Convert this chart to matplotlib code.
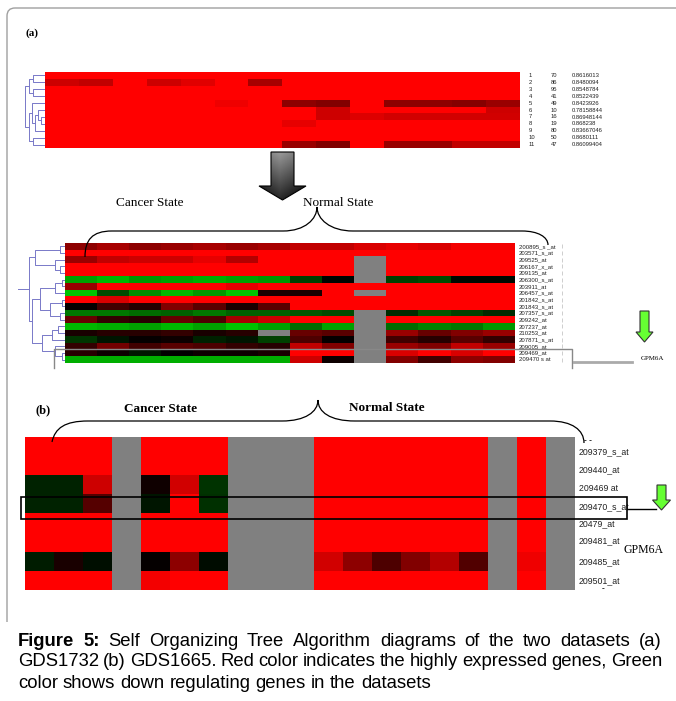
import numpy as np
import matplotlib
matplotlib.use('Agg')
import matplotlib.pyplot as plt
from matplotlib.colors import LinearSegmentedColormap
from matplotlib.path import Path
from matplotlib.patches import PathPatch, Polygon, Rectangle

nan = np.nan

# ---- (a) top: SOTA cluster profiles (11 clusters x 14 samples)
clus_id = [str(i) for i in range(1, 12)]
clus_size = ['70', '86', '95', '41', '49', '10', '16', '19', '80', '50', '47']
clus_corr = ['0.8616013', '0.8480094', '0.8548784', '0.8522439', '0.8423926',
             '0.78158844', '0.86948144', '0.868238', '0.83667046', '0.8680111',
             '0.86099404']
sota_vals = np.array([
    [1, 1, 1, 1, 1, 1, 1, 1, 1, 1, 1, 1, 1, 1],
    [0.8, 0.75, 1, 0.8, 0.88, 1, 0.65, 1, 1, 1, 1, 1, 1, 1],
    [1, 1, 1, 1, 1, 1, 1, 1, 1, 1, 1, 1, 1, 1],
    [1, 1, 1, 1, 1, 1, 1, 1, 1, 1, 1, 1, 1, 1],
    [1, 1, 1, 1, 1, 0.93, 1, 0.55, 0.5, 1, 0.55, 0.55, 0.52, 0.6],
    [1, 1, 1, 1, 1, 1, 1, 1, 0.8, 1, 1, 1, 1, 0.8],
    [1, 1, 1, 1, 1, 1, 1, 1, 0.8, 0.86, 0.82, 0.82, 0.82, 0.82],
    [1, 1, 1, 1, 1, 1, 1, 0.9, 1, 1, 1, 1, 1, 1],
    [1, 1, 1, 1, 1, 1, 1, 1, 1, 1, 1, 1, 1, 1],
    [1, 1, 1, 1, 1, 1, 1, 1, 1, 1, 1, 1, 1, 1],
    [1, 1, 1, 1, 1, 1, 1, 0.6, 0.5, 1, 0.6, 0.6, 0.75, 0.75],
])
# merges: (child a, child b, x of join)
sota_tree = [(0, 1, 33), (2, 3, 33), (11, 12, 29), (6, 7, 41), (5, 14, 38),
             (15, 8, 35), (4, 16, 32), (9, 10, 33), (17, 18, 29), (13, 19, 25)]

# ---- (a) middle: GDS1732 probes (18 probes x 14 samples)
probes_a = ['200895_s _at', '203571_s_at', '209525_at', '206167_x_at', '209135_at',
            '206300_s_at', '203911_at', '206457_s_at', '201842_s_at', '201843_s_at',
            '207357_s_at', '209242_at', '207237_at', '210253_at', '207871_s_at',
            '209005_at', '209469_at', '209470 s at']
expr_a = np.array([
    [0.55, 0.65, 0.55, 0.6, 0.65, 0.6, 0.65, 0.75, 0.75, 0.85, 0.9, 0.85, 0.95, 0.95],
    [1, 1, 1, 1, 1, 1, 1, 1, 1, 1, 1, 1, 1, 1],
    [0.6, 0.75, 0.8, 0.8, 0.9, 0.7, 1, 1, 1, nan, 1, 1, 1, 1],
    [1, 1, 1, 1, 1, 1, 1, 1, 1, nan, 1, 1, 1, 1],
    [1, 1, 1, 1, 1, 1, 1, 1, 1, nan, 1, 1, 1, 1],
    [-0.75, -0.85, -0.7, -0.75, -0.8, -0.75, -0.7, -0.3, -0.03, nan, -0.3, -0.35, -0.04, -0.04],
    [0.6, 1, 1, 1, 1, 0.9, 1, 1, 1, 1, 1, 1, 1, 1],
    [-0.9, -0.35, -0.65, -0.85, -0.7, -0.9, 0.1, 0.1, 1, nan, 1, 1, 1, 1],
    [1, 0.85, 1, 1, 1, 1, 1, 1, 1, 1, 1, 1, 1, 1],
    [0.02, 0.25, 0.15, 0.5, 0.35, 0.1, 0.35, 1, 1, 1, 1, 1, 1, 1],
    [-0.55, -0.55, -0.5, -0.45, -0.55, -0.45, -0.45, -0.4, -0.35, nan, -0.2, -0.4, -0.3, -0.2],
    [0.4, 0.2, 0.15, 0.4, 0.3, 0.65, 0.8, 1, 1, nan, 1, 1, 1, 1],
    [-0.85, -0.8, -0.75, -0.85, -0.75, -0.9, -0.75, -0.5, -0.75, nan, -0.5, -0.6, -0.55, -0.7],
    [0.1, 0.15, 0.15, 0.2, 0.1, 0.15, nan, 0.4, 0.35, nan, 0.6, 0.4, 0.5, 0.6],
    [-0.25, -0.1, 0.02, 0.05, -0.15, -0.1, -0.3, 0.3, 0.02, nan, 0.25, 0.15, 0.35, 0.2],
    [0.2, 0.45, 0.25, 0.35, 0.3, 0.2, 0.15, 0.75, 0.5, nan, 0.6, 0.5, 0.75, 0.6],
    [0.15, 0.05, -0.1, 0.0, 0.05, 0.05, 0.1, 1, 1, nan, 0.85, 1, 0.85, 1],
    [-0.8, -0.8, -0.8, -0.8, -0.8, -0.8, -0.8, 0.8, 0.05, nan, 0.5, 0.25, 0.55, 0.5],
])
tree_a = [(0, 1, 60), (3, 4, 60), (2, 19, 55), (18, 20, 35),
          (5, 6, 62), (22, 7, 55), (8, 9, 62), (10, 11, 60), (24, 25, 50), (23, 26, 40),
          (12, 13, 58), (28, 14, 52), (16, 17, 62), (15, 30, 55), (29, 31, 42),
          (27, 32, 32), (21, 33, 29)]

# ---- (b) GDS1665 probes (8 probes x 19 samples)
probes_b = ['209379_s_at', '209440_at', '209469 at', '209470_s_at', '20479_at',
            '209481_at', '209485_at', '209501_at']
R = 1
expr_b = np.array([
    [R, R, R, nan, R, R, R, nan, nan, nan, R, R, R, R, R, R, nan, R, nan],
    [R, R, R, nan, R, R, R, nan, nan, nan, R, R, R, R, R, R, nan, R, nan],
    [-0.16, -0.16, 0.8, nan, 0.06, 0.82, -0.24, nan, nan, nan, R, R, R, R, R, R, nan, R, nan],
    [-0.16, -0.16, 0.33, nan, -0.1, R, -0.22, nan, nan, nan, R, R, R, R, R, R, nan, R, nan],
    [R, R, R, nan, R, R, R, nan, nan, nan, R, R, R, R, R, R, nan, R, nan],
    [R, R, R, nan, R, R, R, nan, nan, nan, R, R, R, R, R, R, nan, R, nan],
    [-0.13, 0.1, -0.07, nan, 0.02, 0.55, -0.06, nan, nan, nan, 0.82, 0.55, 0.3, 0.5, 0.7, 0.32, nan, 0.93, nan],
    [R, R, R, nan, 0.95, R, R, nan, nan, nan, R, R, R, R, R, R, nan, R, nan],
])

caption_lines = [
    [('Figure', 'bold'), ('5:', 'bold')] + [(w, 'normal') for w in
     'Self Organizing Tree Algorithm diagrams of the two datasets (a)'.split()],
    [(w, 'normal') for w in
     'GDS1732 (b) GDS1665. Red color indicates the highly expressed genes, Green'.split()],
    [(w, 'normal') for w in 'color shows down regulating genes in the datasets'.split()],
]

SERIF = 'Liberation Serif'
SANS = 'Liberation Sans'

cmap = LinearSegmentedColormap.from_list('rg', [(0, 0.85, 0), (0, 0, 0), (1, 0, 0)])
cmap.set_bad('#808080')

fig = plt.figure(figsize=(6.76, 7.01), dpi=100)
ax = fig.add_axes([0, 0, 1, 1])
ax.set_axis_off()


def heat(vals, x0, x1, y0, y1):
    ax.imshow(np.ma.masked_invalid(vals), cmap=cmap, vmin=-1, vmax=1,
              extent=(x0, x1, y1, y0), aspect='auto', interpolation='nearest', zorder=2)
    n = vals.shape[0]
    return y0 + (np.arange(n) + 0.5) * (y1 - y0) / n


def tree(leaf_y, merges, x_leaf, root_x=None, color='#7878c8'):
    pos = {i: (x_leaf, y) for i, y in enumerate(leaf_y)}
    n = len(leaf_y)
    for k, (a, b, xm) in enumerate(merges):
        xa, ya = pos[a]
        xb, yb = pos[b]
        ax.plot([xa, xm, xm, xb], [ya, ya, yb, yb], color=color, lw=0.7, zorder=1)
        pos[n + k] = (xm, (ya + yb) / 2)
    if root_x is not None:
        xm, ym = pos[n + len(merges) - 1]
        ax.plot([root_x, xm], [ym, ym], color=color, lw=0.7)


def arrow_poly(cx, top, sw, hw, hy, tip):
    return [(cx - sw / 2, top), (cx + sw / 2, top), (cx + sw / 2, hy), (cx + hw / 2, hy),
            (cx, tip), (cx - hw / 2, hy), (cx - sw / 2, hy)]


def brace(pts):
    verts = [pts[0]]
    codes = [Path.MOVETO]
    for seg in pts[1:]:
        if len(seg) == 3:
            verts += list(seg)
            codes += [Path.CURVE4] * 3
        else:
            verts.append(seg)
            codes.append(Path.LINETO)
    ax.add_patch(PathPatch(Path(verts, codes), fc='none', ec='black', lw=0.9, zorder=4))


# outer frame
fr = Path([(7, 622), (7, 16), (7, 8), (15, 8), (676, 8)],
          [Path.MOVETO, Path.LINETO, Path.CURVE3, Path.CURVE3, Path.LINETO])
ax.add_patch(PathPatch(fr, fc='none', ec='#a0a0a0', lw=1.0))

# ---------------- panel (a)
ax.text(25, 33, '(a)', family=SERIF, fontweight='bold', fontsize=8, va='center')

ys = heat(sota_vals, 45, 520, 72, 148)
tree(ys, sota_tree, 45)
val_dy = [0, 0, 0, 0, 0, 0, 0.6, -0.4, 0, 0, 0]
for y, a, b, c, d in zip(ys, clus_id, clus_size, clus_corr, val_dy):
    ax.text(529, y, a, fontsize=4.2, family=SANS, va='center', color='#222')
    ax.text(551, y, b, fontsize=4.2, family=SANS, va='center', color='#222')
    ax.text(572, y + d, c, fontsize=4.2, family=SANS, va='center', color='#222')

# big down arrow with grey gradient
poly = Polygon(arrow_poly(282.5, 152, 23, 47, 186, 200), closed=True, fc='none',
               ec='black', lw=0.8, zorder=5)
ax.add_patch(poly)
gy, gx = np.mgrid[0:1:60j, 0:1:60j]
grad = 0.6 - 0.45 * gy - 0.3 * np.abs(gx - 0.45)
gim = ax.imshow(grad, cmap='gray', vmin=0, vmax=1, extent=(259, 306, 200, 152),
                aspect='auto', zorder=4)
gim.set_clip_path(poly)

ax.text(150, 203, 'Cancer State', family=SERIF, fontsize=9.5, ha='center', va='center')
ax.text(338, 203, 'Normal State', family=SERIF, fontsize=9.5, ha='center', va='center')

ys = heat(expr_a, 65, 515, 243, 363)
tree(ys, tree_a, 65, root_x=18)
for y, lab in zip(ys, probes_a):
    ax.text(519, y, lab, fontsize=4.3, family=SANS, va='center', color='#222', zorder=3)
ax.vlines(np.full(len(ys), 562), ys - 2, ys + 2, color='#bbbbbb', lw=0.5)

brace([(85, 257), ((85, 240), (92, 231), (112, 231)), (283, 231),
       ((305, 231), (317, 219), (317, 207)), ((317, 219), (330, 231), (353, 231)),
       (522, 231), ((538, 231), (548, 237), (548, 245))])

# GPM6A box (a)
ax.plot([54, 54, 572, 572], [368, 349, 349, 368], color='#888888', lw=1.0, zorder=6)
ax.plot([574, 632], [362, 362], color='#aaaaaa', lw=2.0)
ax.text(641, 358, 'GPM6A', family=SERIF, fontsize=5, va='center')
ax.add_patch(Polygon(arrow_poly(644.5, 311, 9, 17, 332, 342), closed=True,
                     fc='#66ff33', ec='#333333', lw=0.8, zorder=5))

# ---------------- panel (b)
ax.text(43, 410, '(b)', family=SERIF, fontweight='bold', fontsize=9, ha='center', va='center')
ax.text(161, 409, 'Cancer State', family=SERIF, fontweight='bold', fontsize=9.5,
        ha='center', va='center')
ax.text(387, 408, 'Normal State', family=SERIF, fontweight='bold', fontsize=9.5,
        ha='center', va='center')
brace([(52, 442), ((55, 428), (65, 421), (88, 421)), (282, 421),
       ((305, 421), (318, 412), (318, 400)), ((318, 412), (330, 421), (355, 421)),
       (550, 421), ((572, 421), (584, 430), (584, 443))])

ys = heat(expr_b, 25, 575, 437, 590)
lab_dy = [5, 4, 4, 3, 1, -1, 0, 0]
for y, lab, d in zip(ys, probes_b, lab_dy):
    ax.text(579, y + d, lab, fontsize=6.3, family=SANS, va='center', color='#222')
ax.text(584, 440, '- -', fontsize=6, family=SANS, va='center', fontweight='bold')
ax.text(602, 589, '-', fontsize=6, family=SANS, va='center', fontweight='bold')

ax.add_patch(Rectangle((21, 497), 606, 22, fc='none', ec='black', lw=1.2, zorder=6))
ax.plot([627, 656], [509, 509], color='black', lw=1.0)
ax.text(623, 550, 'GPM6A', family=SERIF, fontsize=8.5, va='center')
ax.add_patch(Polygon(arrow_poly(661.5, 485, 9, 18, 500, 510), closed=True,
                     fc='#66ff33', ec='#333333', lw=0.8, zorder=5))

# ---------------- caption (justified)
r = fig.canvas.get_renderer()
cap_y = [641, 662, 684]
for i, (words, y) in enumerate(zip(caption_lines, cap_y)):
    ts = [ax.text(0, y, w, family=SANS, fontsize=13.3, fontweight=wt, va='center')
          for w, wt in words]
    widths = [t.get_window_extent(r).width for t in ts]
    if i < 2:
        gap = (662 - 18 - sum(widths)) / (len(ts) - 1)
    else:
        gap = 5.0
    x = 18
    for t, w in zip(ts, widths):
        t.set_x(x)
        x += w + gap

ax.set_xlim(0, 676)
ax.set_ylim(701, 0)
fig.savefig('out.png', dpi=100)
